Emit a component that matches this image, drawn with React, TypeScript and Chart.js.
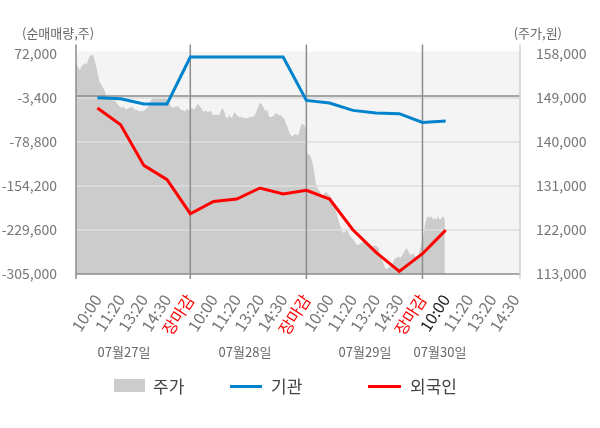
import React, { useEffect, useRef } from "react";
import Chart from "chart.js/auto";

const FONT = "'Noto Sans CJK KR', 'Noto Sans', sans-serif";

// x axis labels, one per slot (5 slots per trading day)
const tickLabels = [
  "10:00", "11:20", "13:20", "14:30", "장마감",
  "10:00", "11:20", "13:20", "14:30", "장마감",
  "10:00", "11:20", "13:20", "14:30", "장마감",
  "10:00", "11:20", "13:20", "14:30",
];
const dayLabels = ["07월27일", "07월28일", "07월29일", "07월30일"];

const leftTicks = [72000, -3400, -78800, -154200, -229600, -305000];
const rightTicks = [158000, 149000, 140000, 131000, 122000, 113000];

// 순매매량 at each labelled slot
const instValues = [
  -2900, -4600, -13700, -13700, 66900,
  66900, 66900, 66900, 66900, -7500,
  -12000, -24600, -29100, -30300, -45200,
  -42800,
];
const foreignValues = [
  -20500, -49100, -118900, -143400, -201700,
  -180600, -176500, -157600, -167900, -161700,
  -176500, -229100, -268000, -300500, -270200,
  -229900,
];

// intraday price, 70 samples per day
const day1Price = [
  157180, 155810, 155140, 154790, 155470, 155810, 156160, 155810, 156830, 157650,
  157860, 157650, 156490, 155140, 153420, 152070, 151720, 151050, 150350, 149330,
  149000, 148650, 148650, 148310, 148650, 147980, 147630, 147280, 146960, 147280,
  146960, 146610, 146960, 146960, 147280, 146960, 146610, 146610, 146470, 146260,
  146400, 146260, 146610, 146750, 147280, 147980, 148650, 149000, 149000, 149100,
  149200, 149000, 149100, 149000, 149200, 149000, 148650, 147630, 147280, 146960,
  147280, 147170, 147400, 146960, 146610, 146610, 146260, 146610, 146750, 146400,
];
const day2Price = [
  146960, 146810, 146610, 147280, 147780, 147490, 146960, 146400, 146260, 146400,
  146140, 146260, 146400, 145590, 145590, 145590, 145590, 145590, 146400, 146960,
  146260, 145040, 144910, 145590, 144910, 145240, 146140, 145730, 145440, 145040,
  145240, 144910, 145040, 144770, 144910, 145040, 145040, 145240, 145240, 145930,
  146810, 147780, 147980, 147490, 146810, 146260, 146610, 145240, 145040, 145240,
  145440, 145930, 145730, 145440, 145590, 145040, 144910, 143890, 143190, 142170,
  141500, 141150, 141500, 141640, 141360, 141640, 143190, 143690, 143540, 142960,
];
const day3Price = [
  137750, 137410, 137060, 136040, 134340, 131950, 130600, 130250, 129570, 128550,
  129230, 129900, 129570, 129230, 128880, 128200, 127180, 126160, 125140, 123770,
  122750, 121720, 121390, 121720, 122070, 121390, 120700, 120370, 120030, 119350,
  119000, 119000, 119210, 119470, 119680, 119350, 119000, 118900, 118760, 118620,
  118760, 118760, 118620, 118330, 116940, 115900, 115260, 114240, 114030, 114240,
  114560, 114710, 115590, 116280, 116280, 116610, 116280, 116610, 117300, 117980,
  118330, 117630, 116940, 116940, 117300, 116610, 116610, 116940, 117980, 119350,
];
const day4Price = [
  120700, 123090, 124460, 124790, 124460, 124790, 124110, 124460, 124110, 124790,
  123970, 124460, 124790, 124110,
];

const SLOTS_PER_DAY = 5;
const SAMPLES_PER_DAY = 70;
const dayBreaks = [5, 10, 15];

const pricePoints = [day1Price, day2Price, day3Price, day4Price].flatMap((arr, d) =>
  arr.map((v, i) => ({
    x: d * SLOTS_PER_DAY + ((i + 0.5) * SLOTS_PER_DAY) / SAMPLES_PER_DAY,
    y: v,
  }))
);
const instPoints = instValues.map((v, i) => ({ x: i + 1, y: v }));
const foreignPoints = foreignValues.map((v, i) => ({ x: i + 1, y: v }));

const fmt = (v: number) => Number(v).toLocaleString("en-US");

const framePlugin = {
  id: "frame",
  beforeDatasetsDraw(chart: any) {
    const { ctx, chartArea: a } = chart;
    ctx.save();
    ctx.fillStyle = "#f4f4f4";
    ctx.fillRect(a.left, a.top - 2.5, a.right - a.left, a.bottom - a.top + 2.5);
    ctx.restore();
  },
  afterDatasetDraw(chart: any, args: any) {
    if (args.index !== 0) return;
    const { ctx, chartArea: a, scales } = chart;
    const line = (x1: number, y1: number, x2: number, y2: number) => {
      ctx.beginPath();
      ctx.moveTo(x1, y1);
      ctx.lineTo(x2, y2);
      ctx.stroke();
    };
    ctx.save();
    // horizontal grid lines
    ctx.strokeStyle = "#dedede";
    ctx.lineWidth = 1.5;
    leftTicks.forEach((v) => {
      const py = scales.y.getPixelForValue(v);
      if (py < a.top + 2 || py > a.bottom - 2) return;
      line(a.left, py, a.right, py);
    });
    // zero line
    ctx.strokeStyle = "#8c8c8c";
    ctx.lineWidth = 1.5;
    const zy = scales.y.getPixelForValue(0);
    line(a.left, zy, a.right, zy);
    // day separators and left axis
    const top = a.top - 9.5;
    const tickEnd = a.bottom + 5;
    dayBreaks.forEach((u) => {
      const px = scales.x.getPixelForValue(u);
      line(px, top, px, tickEnd);
    });
    line(a.left, top, a.left, tickEnd);
    line(a.left, a.bottom, a.right, a.bottom);
    // right axis
    ctx.strokeStyle = "#d2d2d2";
    line(a.right, top, a.right, tickEnd);
    ctx.restore();
  },
};

const Label = ({ left, top, width, height, size, color, align, children }: any) => (
  <div
    style={{
      position: "absolute",
      left,
      top,
      width,
      height,
      lineHeight: `${height}px`,
      fontSize: size,
      color,
      textAlign: align || "left",
      whiteSpace: "nowrap",
    }}
  >
    {children}
  </div>
);

export default function App() {
  const canvasRef = useRef<HTMLCanvasElement>(null);

  useEffect(() => {
    if (!canvasRef.current) return;
    Chart.defaults.font.family = FONT;

    const chart = new Chart(canvasRef.current, {
      type: "line",
      data: {
        datasets: [
          {
            label: "주가",
            data: pricePoints,
            yAxisID: "y1",
            borderWidth: 0,
            borderColor: "rgba(0,0,0,0)",
            backgroundColor: "#cccccc",
            fill: "start",
            pointRadius: 0,
            tension: 0,
            order: 3,
          },
          {
            label: "기관",
            data: instPoints,
            yAxisID: "y",
            borderColor: "#0083cd",
            borderWidth: 3,
            pointRadius: 0,
            fill: false,
            tension: 0,
            order: 2,
          },
          {
            label: "외국인",
            data: foreignPoints,
            yAxisID: "y",
            borderColor: "#ff0000",
            borderWidth: 3,
            pointRadius: 0,
            fill: false,
            tension: 0,
            order: 1,
          },
        ],
      },
      options: {
        responsive: false,
        animation: false,
        events: [],
        layout: { padding: { top: 54, left: 0, right: 0, bottom: 0 } },
        plugins: {
          legend: { display: false },
          tooltip: { enabled: false },
        },
        scales: {
          x: {
            type: "linear",
            min: 0.078,
            max: 19.2,
            grid: { display: false },
            border: { display: false },
            afterBuildTicks: (s: any) => {
              s.ticks = tickLabels.map((_, i) => ({ value: i + 1 }));
            },
            afterFit: (s: any) => {
              s.height = 154;
            },
            ticks: {
              autoSkip: false,
              minRotation: 57,
              maxRotation: 57,
              padding: 9,
              font: { size: 16 },
              color: (c: any) => {
                const v = Math.round(c.tick ? c.tick.value : 0);
                if (v % SLOTS_PER_DAY === 0) return "#ff0000";
                if (v === 16) return "#222222";
                return "#777777";
              },
              callback: (v: any) => tickLabels[Math.round(v) - 1] ?? "",
            },
          },
          y: {
            position: "left",
            min: -305000,
            max: 72000,
            grid: { display: false },
            border: { display: false },
            afterBuildTicks: (s: any) => {
              s.ticks = leftTicks.map((v) => ({ value: v }));
            },
            afterFit: (s: any) => {
              s.width = 76;
            },
            ticks: {
              padding: 11,
              color: "#777777",
              font: { size: 14 },
              callback: (v: any) => fmt(v),
            },
          },
          y1: {
            position: "right",
            min: 113000,
            max: 158000,
            grid: { display: false },
            border: { display: false },
            afterBuildTicks: (s: any) => {
              s.ticks = rightTicks.map((v) => ({ value: v }));
            },
            afterFit: (s: any) => {
              s.width = 80;
            },
            ticks: {
              padding: 8,
              color: "#777777",
              font: { size: 14 },
              callback: (v: any) => fmt(v),
            },
          },
        },
      },
      plugins: [framePlugin],
    } as any);

    return () => chart.destroy();
  }, []);

  const dayCenters = [124, 245, 365, 440];

  return (
    <div
      style={{
        position: "absolute",
        left: 0,
        top: 0,
        width: 600,
        height: 428,
        background: "#ffffff",
        fontFamily: FONT,
        overflow: "hidden",
      }}
    >
      <canvas
        ref={canvasRef}
        width={600}
        height={428}
        style={{ position: "absolute", left: 0, top: 0 }}
      />
      <Label left={22} top={24} height={18} size={13} color="#666">
        (순매매량,주)
      </Label>
      <Label left={462} top={24} width={100} height={18} size={13} color="#666" align="right">
        (주가,원)
      </Label>
      {dayLabels.map((d, i) => (
        <Label key={d} left={dayCenters[i] - 40} top={343} width={80} height={18} size={13} color="#666" align="center">
          {d}
        </Label>
      ))}
      <div style={{ position: "absolute", left: 114, top: 379, width: 31, height: 13, background: "#cccccc" }} />
      <Label left={153} top={376} height={20} size={17} color="#444">
        주가
      </Label>
      <div style={{ position: "absolute", left: 230, top: 384.5, width: 32, height: 3, background: "#0083cd" }} />
      <Label left={271} top={376} height={20} size={17} color="#444">
        기관
      </Label>
      <div style={{ position: "absolute", left: 368, top: 384.5, width: 33, height: 3, background: "#ff0000" }} />
      <Label left={410} top={376} height={20} size={17} color="#444">
        외국인
      </Label>
    </div>
  );
}
